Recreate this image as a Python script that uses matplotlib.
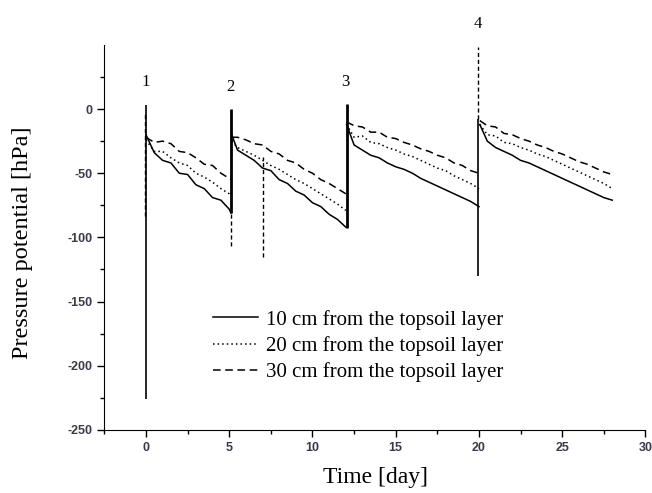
import matplotlib.pyplot as plt
import numpy as np

plt.rcParams['axes.unicode_minus'] = False

# time grids of the four wetting cycles
t_seg1 = [0.0, 0.5, 1.0, 1.5, 2.0, 2.5, 3.0, 3.5, 4.0, 4.5, 5.0, 5.1]
t_seg2 = [5.15, 5.5, 6.0, 6.5, 7.0, 7.5, 8.0, 8.5, 9.0, 9.5, 10.0, 10.5,
          11.0, 11.5, 12.0]
t_seg3 = [12.05, 12.5, 13.0, 13.5, 14.0, 14.5, 15.0, 15.5, 16.0, 16.5, 17.0,
          17.5, 18.0, 18.5, 19.0, 19.5, 20.0]
t_seg4 = [20.05, 20.5, 21.0, 21.5, 22.0, 22.5, 23.0, 23.5, 24.0, 24.5, 25.0,
          25.5, 26.0, 26.5, 27.0, 27.5, 28.0]

# 10 cm
cm10 = [
    [-20, -34, -40, -42, -50, -51, -59, -62, -69, -71, -78, -81],
    [-20, -32, -36, -40, -46, -48, -55, -58, -64, -67, -73, -76, -82, -86, -92],
    [-12, -28, -32, -36, -38, -42, -45, -47, -50, -54, -57, -60, -63, -66,
     -69, -72, -76],
    [-12, -25, -30, -33, -36, -40, -42, -45, -48, -51, -54, -57, -60, -63,
     -66, -69, -71],
]
# 20 cm
cm20 = [
    [-24, -33, -33, -38, -42, -44, -50, -53, -57, -62, -66, -68],
    [-25, -30, -33, -36, -40, -44, -47, -51, -55, -58, -62, -66, -70, -74, -79],
    [-12, -22, -21, -26, -27, -30, -32, -35, -37, -40, -43, -46, -48, -52,
     -55, -58, -62],
    [-12, -20, -21, -26, -27, -30, -32, -35, -37, -40, -43, -46, -49, -52,
     -55, -58, -62],
]
# 30 cm
cm30 = [
    [-22, -26, -25, -27, -33, -34, -38, -43, -44, -50, -54, -55],
    [-22, -22, -24, -27, -28, -33, -35, -40, -42, -47, -50, -55, -58, -62, -66],
    [-10, -13, -14, -18, -18, -22, -23, -26, -28, -31, -33, -36, -38, -42,
     -44, -48, -50],
    [-9, -13, -14, -19, -20, -23, -25, -28, -30, -33, -35, -38, -41, -43,
     -46, -49, -51],
]

# irrigation events: time, spike low, spike high
event_t = [0.0, 5.1, 12.05, 19.95]
event_lo = [-226, -81, -93, -130]
event_hi = [3, 0, 4, -8]
event_lw = [1.2, 2.0, 2.0, 1.2]
# dashed spike pieces
dash_t = [-0.05, 5.1, 7.05, 19.95]
dash_lo = [-83, -107, -115, -8]
dash_hi = [-2, -81, -37, 48]
# event numbers
label_t = [0.0, 5.1, 12.0, 19.95]
label_y = [21, 17, 21, 66]
label_txt = ['1', '2', '3', '4']

segments = [t_seg1, t_seg2, t_seg3, t_seg4]

fig = plt.figure(figsize=(6.52, 4.93), dpi=100)
ax = fig.add_axes([0.16, 0.128, 0.830, 0.781])

serif = 'Liberation Serif'
styles = [
    (cm10, '-', 1.1, '10 cm from the topsoil layer'),
    (cm20, (0, (1, 2)), 1.1, '20 cm from the topsoil layer'),
    (cm30, (0, (5, 3)), 1.1, '30 cm from the topsoil layer'),
]
for series, ls, lw, name in styles:
    for k, (tt, vals) in enumerate(zip(segments, series)):
        ax.plot(tt, vals, color='black', linestyle=ls, linewidth=lw,
                label=name if k == 0 else None)

for t, lo, hi, lw in zip(event_t, event_lo, event_hi, event_lw):
    ax.vlines(t, lo, hi, color='black', linewidth=lw)
for t, lo, hi in zip(dash_t, dash_lo, dash_hi):
    ax.vlines(t, lo, hi, color='black', linewidth=1.0, linestyle=(0, (3, 2)))

for t, y, s in zip(label_t, label_y, label_txt):
    ax.text(t, y, s, ha='center', va='center', fontsize=12, family=serif,
            clip_on=False)

ax.set_xlim(-2.5, 30)
ax.set_ylim(-250, 50)
ax.set_xticks([0, 5, 10, 15, 20, 25, 30])
ax.set_xticks(np.arange(-2.5, 30, 5), minor=True)
ax.set_yticks([-250, -200, -150, -100, -50, 0])
ax.set_yticks([-225, -175, -125, -75, -25, 25], minor=True)
ax.spines['top'].set_visible(False)
ax.spines['right'].set_visible(False)
ax.tick_params(direction='out', length=5, width=1, labelsize=9,
               labelcolor='#3a3a4a')
ax.tick_params(which='minor', direction='out', length=3, width=1)
for lab in ax.get_xticklabels() + ax.get_yticklabels():
    lab.set_fontweight('bold')
    lab.set_family('Liberation Sans')

ax.set_xlabel('Time [day]', fontsize=17, family=serif)
ax.set_ylabel('Pressure potential [hPa]', fontsize=17.5, family=serif)
ax.xaxis.set_label_coords(0.501, -0.097)
ax.yaxis.set_label_coords(-0.131, 0.486)

ax.legend(loc='upper left', bbox_to_anchor=(0.2, 0.312), frameon=False,
          prop={'family': serif, 'size': 15}, handlelength=2.2,
          labelspacing=0.3, handletextpad=0.35, borderaxespad=0,
          borderpad=0)

fig.savefig('out.png', dpi=100)
